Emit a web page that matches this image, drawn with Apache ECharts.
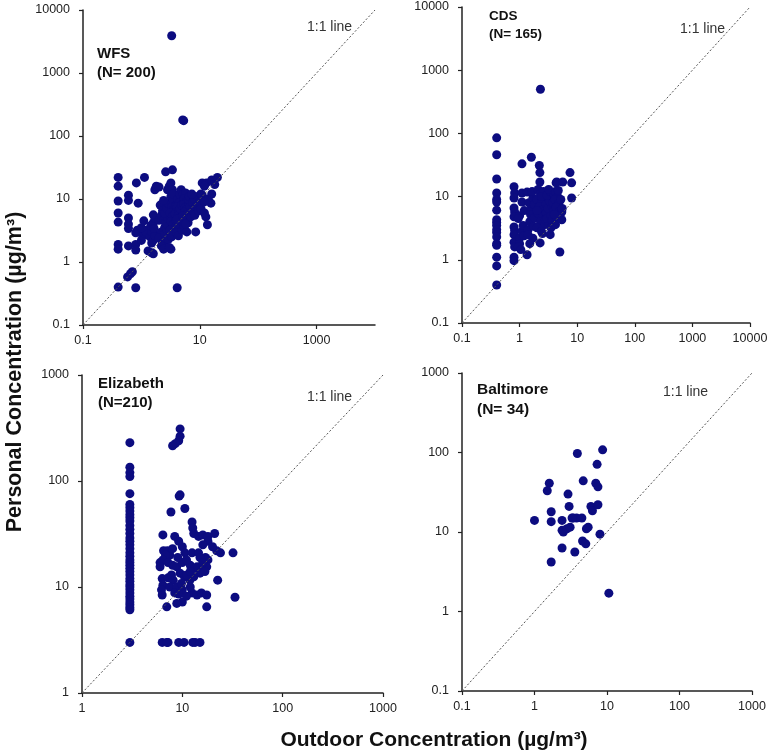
<!DOCTYPE html>
<html>
<head>
<meta charset="utf-8">
<script src="https://cdn.jsdelivr.net/npm/echarts@6/dist/echarts.min.js"></script>
<style>
html,body{margin:0;padding:0;background:#fff;}
#chart{width:771px;height:753px;}
</style>
</head>
<body>
<div id="chart"></div>
<script>
// ---------- Data (outdoor, personal) in µg/m³ ----------
const wfs = [
  [0.4,22],[0.4,16],[0.4,9.3],[0.4,6],[0.4,4.3],[0.4,1.9],[0.4,1.6],[0.4,0.4],
  [0.6,11.5],[0.6,9.5],[0.6,5],[0.6,4],[0.6,3.4],[0.6,1.8],[0.58,0.58],[0.65,0.65],[0.7,0.7],
  [0.8,0.39],[0.82,18],[0.88,8.6],[0.8,1.9],[0.8,1.55],[0.85,3.2],[0.8,2.9],
  [1.13,22],[1.0,2.2],[1.05,2.6],[1.1,2.9],[1.15,3.2],[1.2,3.0],[1.0,3.5],[1.1,4.5],
  [1.3,1.5],[1.5,1.4],[1.6,1.35],[1.4,2.5],[1.5,3.0],[1.6,2.2],[1.45,3.8],[1.6,4.2],[1.7,5.0],[1.6,5.6],[1.7,14],[1.8,16],[1.5,2.0],[1.7,2.6],[1.65,3.4],
  [2.0,15.5],[2.1,8],[2.0,4.6],[2.2,5.5],[2.3,6.5],[2.4,4.6],[2.5,3.5],[2.2,3.0],[2.0,2.4],[2.3,2.0],[2.6,2.2],[2.8,2.7],[2.5,2.8],[2.7,3.3],[2.9,3.8],[2.6,4.2],[2.8,5.0],[2.5,6.0],[2.7,7.2],[2.9,8.5],[2.4,9.5],[2.8,14],[3.0,16],[2.6,27],[3.2,18],[2.2,1.8],[2.4,1.6],[2.9,2.3],
  [3.4,29],[3.4,14],[3.2,11],[3.5,9.6],[3.3,7.5],[3.6,6.8],[3.1,6.0],[3.4,5.3],[3.7,4.8],[3.2,4.4],[3.5,3.9],[3.8,3.5],[3.1,3.2],[3.6,2.9],[3.3,2.5],[3.9,4.6],[3.2,1.6],[4.1,0.39],[3.0,1.7],[3.9,7.8],[3.5,12],[3.8,5.8],
  [4.2,10],[4.5,8.8],[4.1,7.5],[4.4,6.5],[4.8,6.0],[4.3,5.5],[4.6,5.0],[4.9,4.4],[4.4,4.2],[4.7,3.6],[4.2,3.3],[4.0,2.9],[4.5,12],[4.8,14],[4.1,4.8],[4.6,7.0],[4.9,8.0],[4.3,2.6],[5.0,3.2],
  [5.2,12],[5.7,12.5],[5.4,10],[5.9,9.0],[5.3,8.2],[5.6,7.3],[6.0,6.8],[5.5,6.2],[5.8,5.6],[6.2,5.0],[5.3,4.6],[6.3,4.2],[5.4,3.6],[6.0,3.0],[6.5,8.5],[6.8,7.5],[6.4,9.8],[6.9,6.0],[6.6,11],[7.0,5.2],[5.1,5.4],[5.7,4.0],
  [7.5,8.8],[7.8,6.2],[8.0,10],[8.5,7.5],[8.2,5.5],[8.5,3.0],[9.0,8.0],[9.5,6.5],[9.2,11],[7.3,12],[10,9.0],[10.5,7.0],[10.4,12],
  [11,18],[13,18],[16,20],[20,22],[18,17],[12,16],[15.5,8.6],[12.7,5.2],[13.5,3.9],[12,6],[11,11.6],[14,10],[12,9],[16,12],
  [3.3,3900],[5.1,180],[5.3,175]
];
const cds = [
  [0.4,85],[0.4,46],[0.4,19],[0.4,11.4],[0.4,9],[0.4,8.2],[0.4,6.1],[0.4,4.3],[0.4,3.9],[0.4,3.5],[0.4,3.0],[0.4,2.7],[0.4,2.3],[0.4,1.8],[0.4,1.7],[0.4,1.1],[0.4,0.8],[0.4,0.4],
  [0.8,14.3],[0.82,11.4],[0.8,9.5],[0.8,6.6],[0.82,5.7],[0.8,4.8],[0.8,3.3],[0.82,2.9],[0.8,2.5],[0.8,1.9],[0.82,1.6],[0.8,1.1],[0.8,0.97],
  [1.1,33],[1.1,11.4],[1.1,8.2],[1.0,5.0],[0.95,4.5],[1.0,2.2],[1.0,1.8],[0.95,1.6],[1.1,2.8],[1.2,6.0],[1.15,3.5],[1.05,1.45],[1.2,2.4],
  [1.35,11.8],[1.6,42],[1.35,1.2],[1.7,2.2],[1.4,3.0],[1.5,4.0],[1.6,6.5],[1.45,8],[1.7,9.5],[1.55,5.2],[1.75,3.4],[1.8,7.5],[1.4,2.5],[1.65,12],[1.8,4.6],[1.5,1.8],
  [2.3,500],[2.2,31],[2.25,24],[2.25,17],[2.1,13],[2.3,11],[2.0,9],[2.4,8.2],[2.2,7],[2.6,6.2],[2.1,5.4],[2.5,4.8],[2.3,4.0],[2.7,3.6],[2.0,3.2],[2.4,2.8],[2.5,2.6],[2.27,1.85],[2.8,9.8],[2.9,7.6],[2.6,12],[2.9,5.5],[2.0,6.0],[2.8,4.3],[2.4,10],
  [3.4,2.5],[3.2,3.6],[3.0,4.5],[3.5,5.0],[3.1,6.5],[3.6,7.2],[3.3,8.5],[3.8,9.6],[3.0,10.5],[3.4,12],[3.9,11],[3.2,13],[3.7,4.2],[3.9,6.0],[3.5,3.2],[3.8,8.0],
  [4.3,16.5],[4.4,17],[5.6,17],[4.2,12],[4.6,10],[4.1,9],[4.8,7.8],[4.3,6.8],[4.9,5.8],[4.5,4.5],[4.2,3.6],[5.4,4.3],[5.4,5.7],[5.0,1.33],[4.7,12.5],[5.2,9.0],[4.0,5.2],[5.5,6.5],
  [7.5,24],[8,16.5],[8,9.5]
];
const eliz = [
  [3,230],[3,135],[3,120],[3,110],[3,76],[3,60],[3,56],[3,52],[3,48],[3,45],[3,42],[3,38],[3,35],[3,32],[3,29],[3,27],[3,25],[3,23],[3,21],[3,19.5],[3,18],[3,17],[3,16],[3,15],[3,14],[3,13],[3,12],[3,11.3],[3,10.5],[3,10],[3,9.4],[3,8.8],[3,8.2],[3,7.7],[3,7.2],[3,6.8],[3,6.4],[3,6.1],[3,3],
  [9.5,310],[9.5,265],[9.2,240],[8.5,225],[8.0,215],[9.5,74],[9.3,72],[7.7,51],[10.6,55],[12.5,41],[12.7,36],[6.4,31],[8.4,30],[9.2,27],[10,24],[13,32],[14.5,30],[16,31],[18,30],[21,32],[18,27],[16,25],
  [6.5,22],[7.1,22],[7.5,20],[6.8,20],[10.6,21],[12.5,21],[22,22],[24,21],[32,21],[17,19],[18,18],[6,17],[6.4,18],[7.2,17],[8,16],[8.8,15.5],[10,17],[12,16],[14,15.5],[17.5,15.5],[15.7,14.4],[6,15.5],
  [6.3,12],[7.2,12.2],[8.1,11.6],[9.5,13.5],[10.5,12.5],[11.9,11.6],[13.4,15],[15,13.5],[16.8,14],[22.5,11.6],[6.4,10.4],[7.5,10],[8.8,10],[10,9.4],[8.4,8.8],[9.2,8.6],[12.5,8.8],[14,8.4],[15.5,8.8],[17.5,8.4],[6.3,8.4],[6.2,9.4],
  [10,7.2],[8.8,7.0],[33.5,8],[17.5,6.5],[7,6.5],[12,10],[13,12.5],[11,13],[14.5,21],[15,19],[8,23],[9,19],[11,18],[12,14],[9.8,10.8],[11,8.2],[7.8,13],[16,17],[20,24],
  [6.3,3],[7.2,3],[9.2,3],[10.4,3],[12.7,3],[13.4,3],[15,3],[7,3]
];
const balt = [
  [1.0,14],[1.6,41],[1.5,33],[1.7,18],[1.7,13.5],[1.7,4.2],[2.4,14],[2.4,10.5],[2.5,10],[2.4,6.3],
  [2.8,11],[3.1,11.5],[2.9,30],[3.0,21],[3.4,15],[3.8,15],[3.9,97],[3.6,5.6],[4.5,15],[4.7,44],
  [4.6,7.7],[5.1,7.1],[5.2,11],[5.5,11.5],[6.0,21],[6.3,18.5],[7.0,41],[7.3,71],[7.5,37],[7.5,22],
  [8.0,9.4],[8.7,108],[10.6,1.7],[3.3,15]
];

// panel definitions
const panelNames = ['WFS', 'CDS', 'Elizabeth', 'Baltimore'];
const panelN = ['(N= 200)', '(N= 165)', '(N=210)', '(N= 34)'];
const xRanges = [[0.1, 10000], [0.1, 10000], [1, 1000], [0.1, 1000]];
const yRanges = [[0.1, 10000], [0.1, 10000], [1, 1000], [0.1, 1000]];
const xTickLabels = [[0.1, 10, 1000], [0.1, 1, 10, 100, 1000, 10000], [1, 10, 100, 1000], [0.1, 1, 10, 100, 1000]];
const yTickLabels = [[0.1, 1, 10, 100, 1000, 10000], [0.1, 1, 10, 100, 1000, 10000], [1, 10, 100, 1000], [0.1, 1, 10, 100, 1000]];
const datasets = [wfs, cds, eliz, balt];

const grids = [
  {left: 83, top: 10, width: 292, height: 315},
  {left: 462, top: 7, width: 288, height: 316},
  {left: 82, top: 375, width: 301, height: 318},
  {left: 462, top: 373, width: 290, height: 318}
];

const FONT = 'Liberation Sans, Arial, sans-serif';
const fmt = v => (v < 1 ? v.toFixed(1) : String(Math.round(v)));

function axis(i, isX) {
  const r = isX ? xRanges[i] : yRanges[i];
  const labels = isX ? xTickLabels[i] : yTickLabels[i];
  return {
    type: 'log', logBase: 10, gridIndex: i, min: r[0], max: r[1],
    axisLine: {show: true, onZero: false, lineStyle: {color: '#222', width: 1.5}},
    axisTick: {show: true, inside: false, length: 4, customValues: labels, lineStyle: {color: '#222', width: 1.2}},
    minorTick: {show: false},
    splitLine: {show: false},
    axisLabel: {customValues: labels, formatter: fmt, color: '#222', fontSize: 12.5, fontFamily: FONT, margin: isX ? 9 : 13},
  };
}

const xAxes = [], yAxes = [], series = [], graphics = [];
for (let i = 0; i < 4; i++) {
  xAxes.push(axis(i, true));
  yAxes.push(axis(i, false));
  series.push({
    type: 'scatter', xAxisIndex: i, yAxisIndex: i, data: datasets[i],
    symbol: 'circle', symbolSize: 9, itemStyle: {color: '#0c0c80', opacity: 1}, z: 2, silent: true
  });
  const lo = Math.max(xRanges[i][0], yRanges[i][0]);
  const hi = Math.min(xRanges[i][1], yRanges[i][1]);
  series.push({
    type: 'line', xAxisIndex: i, yAxisIndex: i, data: [[lo, lo], [hi, hi]],
    symbol: 'none', lineStyle: {color: '#555', width: 1, type: [2, 2]}, z: 3, silent: true
  });
}

const nameStyle = [
  {x: 97, y: 44, size: 15}, {x: 489, y: 8, size: 13.5}, {x: 98, y: 374, size: 15}, {x: 477, y: 380, size: 15.5}
];
const lineTxt = [
  {x: 307, y: 20}, {x: 680, y: 22}, {x: 307, y: 390}, {x: 663, y: 385}
];
for (let i = 0; i < 4; i++) {
  graphics.push({
    type: 'text', left: nameStyle[i].x, top: nameStyle[i].y,
    style: {text: panelNames[i] + '\n' + panelN[i], font: 'bold ' + nameStyle[i].size + 'px ' + FONT, fill: '#111', lineHeight: nameStyle[i].size + 4}
  });
  graphics.push({
    type: 'text', left: lineTxt[i].x, top: lineTxt[i].y,
    style: {text: '1:1 line', font: '14px ' + FONT, fill: '#333'}
  });
}
graphics.push({
  type: 'text', x: 434, y: 740,
  style: {text: 'Outdoor Concentration (µg/m³)', font: 'bold 21px ' + FONT, fill: '#111', align: 'center', verticalAlign: 'middle'}
});
graphics.push({
  type: 'text', x: 15, y: 372, rotation: Math.PI / 2,
  style: {text: 'Personal Concentration (µg/m³)', font: 'bold 21.5px ' + FONT, fill: '#111', align: 'center', verticalAlign: 'middle'}
});

const chart = echarts.init(document.getElementById('chart'), null, {renderer: 'canvas'});
chart.setOption({
  backgroundColor: '#fff',
  animation: false,
  grid: grids,
  xAxis: xAxes,
  yAxis: yAxes,
  series: series,
  graphic: graphics
});
</script>
</body>
</html>
